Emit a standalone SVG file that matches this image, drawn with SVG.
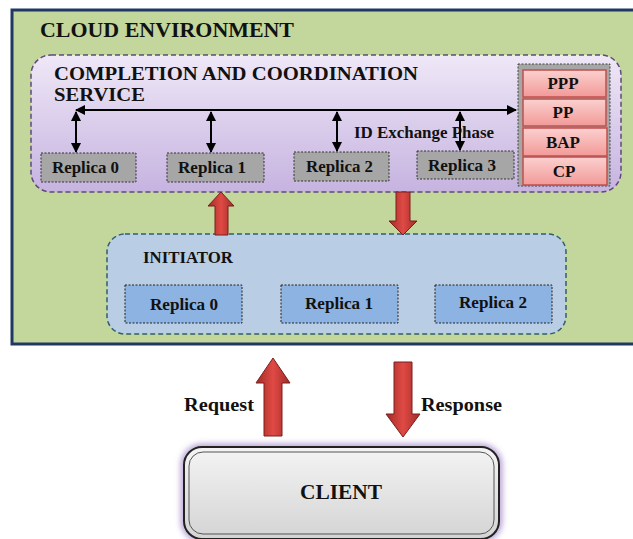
<svg xmlns="http://www.w3.org/2000/svg" width="633" height="539" viewBox="0 0 633 539">
<style>
text{font-family:"Liberation Serif","Times New Roman",serif;font-weight:bold;fill:#111}
.rg{fill:#a6a6a6;stroke:#333;stroke-width:1;stroke-dasharray:2 1.5}
.rb{fill:#8db3e2;stroke:#222;stroke-width:1;stroke-dasharray:2 1.5}
.pk{fill:url(#pink);stroke:#c0504d;stroke-width:1.5}
.lbl{font-size:17px}
.ln{stroke:#000;stroke-width:2;fill:none}
.ra{fill:url(#red);stroke:#7a1f1d;stroke-width:1}
</style>
<defs>
<linearGradient id="purp" x1="0" y1="0" x2="0" y2="1">
<stop offset="0" stop-color="#efe8f7"/><stop offset="1" stop-color="#c6b3e0"/>
</linearGradient>
<linearGradient id="pink" x1="0" y1="0" x2="0" y2="1">
<stop offset="0" stop-color="#fbd0cf"/><stop offset="1" stop-color="#f29a98"/>
</linearGradient>
<linearGradient id="red" x1="0" y1="0" x2="1" y2="0">
<stop offset="0" stop-color="#a02b27"/><stop offset="0.5" stop-color="#e04a45"/><stop offset="1" stop-color="#a02b27"/>
</linearGradient>
<linearGradient id="cli" x1="0" y1="0" x2="0" y2="1">
<stop offset="0" stop-color="#f4f4f4"/><stop offset="1" stop-color="#d4d4d4"/>
</linearGradient>
<marker id="ah" viewBox="0 0 10 10" refX="9" refY="5" markerWidth="5" markerHeight="5" orient="auto-start-reverse">
<path d="M0,0 L10,5 L0,10 z" fill="#000"/>
</marker>
<filter id="glow" x="-10%" y="-20%" width="120%" height="140%">
<feGaussianBlur stdDeviation="3"/>
</filter>
</defs>

<g id="cloud">
<rect x="12" y="10" width="630" height="334" fill="#c3d69b" stroke="#1f3864" stroke-width="3"/>
<text x="40" y="37" font-size="21" textLength="254" lengthAdjust="spacingAndGlyphs">CLOUD ENVIRONMENT</text>
</g>

<g id="completion">
<rect x="31" y="55" width="590" height="137" rx="20" fill="url(#purp)" stroke="#5f497a" stroke-width="1.5" stroke-dasharray="5 3"/>
<text x="54" y="80" font-size="19.5" textLength="364" lengthAdjust="spacingAndGlyphs">COMPLETION AND COORDINATION</text>
<text x="54" y="101" font-size="19.5" textLength="91" lengthAdjust="spacingAndGlyphs">SERVICE</text>
<text x="354" y="138" font-size="16.5" textLength="140" lengthAdjust="spacingAndGlyphs">ID Exchange Phase</text>
</g>

<g id="c-replica0"><rect class="rg" x="41" y="153" width="95" height="29"/><text class="lbl" x="52" y="173" textLength="67" lengthAdjust="spacingAndGlyphs">Replica 0</text></g>
<g id="c-replica1"><rect class="rg" x="167" y="153" width="97" height="29"/><text class="lbl" x="178" y="173" textLength="68" lengthAdjust="spacingAndGlyphs">Replica 1</text></g>
<g id="c-replica2"><rect class="rg" x="294" y="152" width="95" height="29"/><text class="lbl" x="306" y="172" textLength="67" lengthAdjust="spacingAndGlyphs">Replica 2</text></g>
<g id="c-replica3"><rect class="rg" x="417" y="151" width="97" height="28"/><text class="lbl" x="428" y="171" textLength="68" lengthAdjust="spacingAndGlyphs">Replica 3</text></g>

<g id="phases">
<rect x="518" y="64" width="92" height="122" fill="#a6a6a6" stroke="#444" stroke-width="1" stroke-dasharray="2 1.5"/>
<g id="ppp"><rect class="pk" x="523" y="70" width="83" height="27"/><text class="lbl" x="563" y="89" text-anchor="middle">PPP</text></g>
<g id="pp"><rect class="pk" x="523" y="99" width="83" height="27"/><text class="lbl" x="563" y="118" text-anchor="middle">PP</text></g>
<g id="bap"><rect class="pk" x="523" y="128" width="84" height="28"/><text class="lbl" x="563" y="148" text-anchor="middle">BAP</text></g>
<g id="cp"><rect class="pk" x="523" y="157" width="84" height="28"/><text class="lbl" x="564" y="177" text-anchor="middle">CP</text></g>
</g>

<g id="initiator">
<rect x="107" y="234" width="459" height="100" rx="18" fill="#b9cde5" stroke="#2f5f6f" stroke-width="1.5" stroke-dasharray="5 3"/>
<text x="143" y="263" font-size="16.5" textLength="90" lengthAdjust="spacingAndGlyphs">INITIATOR</text>
</g>
<g id="i-replica0"><rect class="rb" x="125" y="285" width="117" height="38"/><text class="lbl" x="150" y="310" textLength="68" lengthAdjust="spacingAndGlyphs">Replica 0</text></g>
<g id="i-replica1"><rect class="rb" x="281" y="285" width="117" height="38"/><text class="lbl" x="305" y="309" textLength="68" lengthAdjust="spacingAndGlyphs">Replica 1</text></g>
<g id="i-replica2"><rect class="rb" x="435" y="285" width="117" height="38"/><text class="lbl" x="459" y="308" textLength="68" lengthAdjust="spacingAndGlyphs">Replica 2</text></g>

<g id="client">
<rect x="184" y="447" width="315" height="92" rx="18" fill="none" stroke="#9b7fc4" stroke-width="5" filter="url(#glow)"/>
<rect x="184" y="447" width="315" height="92" rx="18" fill="url(#cli)" stroke="#222" stroke-width="2"/>
<rect x="189" y="452" width="305" height="82" rx="14" fill="none" stroke="#555" stroke-width="1"/>
<text x="300" y="499" font-size="21" textLength="82" lengthAdjust="spacingAndGlyphs">CLIENT</text>
</g>

<g id="connectors">
<line class="ln" x1="76" y1="110" x2="516" y2="110" marker-start="url(#ah)" marker-end="url(#ah)"/>
<line class="ln" x1="76" y1="112" x2="76" y2="152" marker-start="url(#ah)" marker-end="url(#ah)"/>
<line class="ln" x1="211" y1="112" x2="211" y2="152" marker-start="url(#ah)" marker-end="url(#ah)"/>
<line class="ln" x1="337" y1="112" x2="337" y2="151" marker-start="url(#ah)" marker-end="url(#ah)"/>
<line class="ln" x1="460" y1="112" x2="460" y2="150" marker-start="url(#ah)" marker-end="url(#ah)"/>
<path class="ra" d="M221,192 L234,206 L228,206 L228,235 L215,235 L215,206 L208,206 Z"/>
<path class="ra" d="M396,192 L410,192 L410,221 L417,221 L403,235 L389,221 L396,221 Z"/>
<path class="ra" d="M273,358 L290,383 L282,383 L282,436 L264,436 L264,383 L256,383 Z"/>
<path class="ra" d="M394,362 L412,362 L412,414 L420,414 L403,437 L386,414 L394,414 Z"/>
<text x="184" y="411" font-size="18" textLength="70" lengthAdjust="spacingAndGlyphs">Request</text>
<text x="421" y="411" font-size="18" textLength="81" lengthAdjust="spacingAndGlyphs">Response</text>
</g>
</svg>
